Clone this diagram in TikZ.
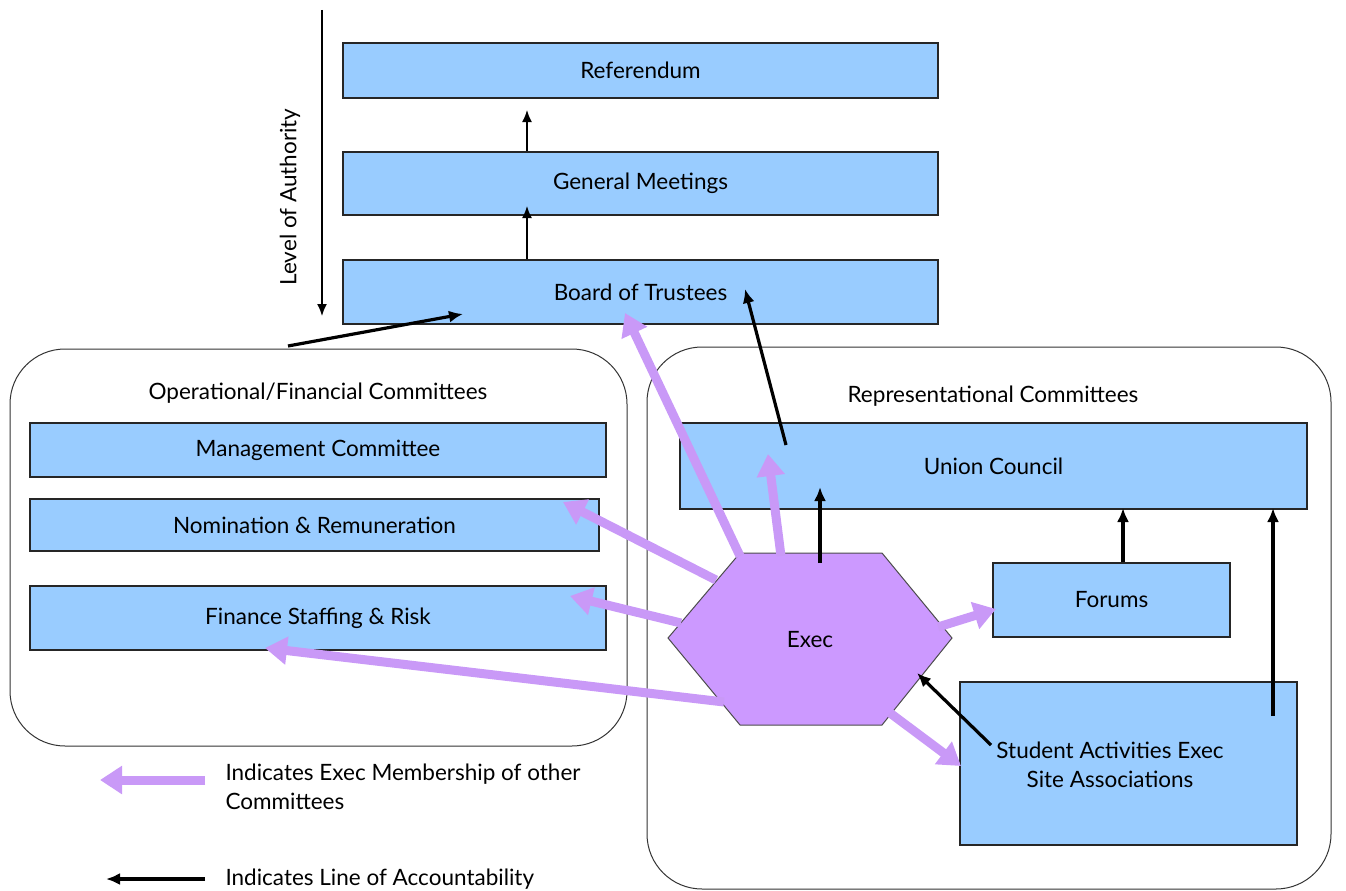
\documentclass[tikz,border=0pt]{standalone}
\usepackage{fontspec}
\setmainfont{Lato}
\usetikzlibrary{arrows.meta,calc}
\definecolor{boxblue}{HTML}{99CCFF}
\definecolor{execpurple}{HTML}{CC99FF}
\definecolor{arrowpurple}{HTML}{C999F7}
\begin{document}
\begin{tikzpicture}[x=1pt,y=-1pt,
  every node/.style={font=\fontsize{22.5}{29}\selectfont},
  bluebox/.style={draw=black!85,line width=1.4pt,fill=boxblue,inner sep=0pt},
  container/.style={draw=black!80,line width=1pt,rounded corners=55pt},
  blackarrow/.style={line width=3.2pt,-{Latex[length=14pt,width=12pt]}},
  thinarrow/.style={line width=1.6pt,-{Latex[length=12pt,width=10pt]}},
  purplearrow/.style={draw=arrowpurple,line width=9pt,-{Triangle[length=22pt,width=27pt]}}]
\useasboundingbox (0,0) rectangle (1346,891);
% containers
\draw[container] (10,349) rectangle (627,746);
\draw[container] (647,347) rectangle (1331,889);
\node (optitle) at (318,393) {Operational/Financial Committees};
\node (reptitle) at (993,396) {Representational Committees};
% top boxes
\node[bluebox,minimum width=595pt,minimum height=55pt] (ref) at (640.5,70.5) {Referendum};
\node[bluebox,minimum width=595pt,minimum height=63pt] (gm) at (640.5,183.5) {General Meetings};
\node[bluebox,minimum width=595pt,minimum height=64pt] (bot) at (640.5,292) {Board of Trustees};
% left committees
\node[bluebox,minimum width=576pt,minimum height=54pt] (mgmt) at (318,450) {Management Committee};
\node[bluebox,minimum width=569pt,minimum height=52pt] (nom) at (314.5,525) {Nomination \& Remuneration};
\node[bluebox,minimum width=576pt,minimum height=64pt] (fin) at (318,618) {Finance Staffing \& Risk};
% right committees
\node[bluebox,minimum width=627pt,minimum height=86pt] (uc) at (993.5,466) {Union Council};
\node[bluebox,minimum width=237pt,minimum height=74pt] (forums) at (1111.5,600) {Forums};
\node[bluebox,minimum width=337pt,minimum height=163pt] (sae) at (1128.5,763.5) {};
\node[align=center] (saetext) at (1110,765) {Student Activities Exec\\Site Associations};
% exec hexagon
\draw[fill=execpurple,draw=black!70,line width=1pt]
  (668,638) -- (740,553) -- (882,553) -- (952,638) -- (882,725) -- (740,725) -- cycle;
\node (exec) at (810,640) {Exec};
% level of authority
\coordinate (loatop) at (322,10);
\coordinate (loabot) at (322,316);
\draw[thinarrow] (loatop) -- (loabot);
\node[rotate=90] (loa) at (290,197) {Level of Authority};
% accountability arrows (top)
\draw[thinarrow] (gm.north -| 527,0) -- (527,110);
\draw[thinarrow] (bot.north -| 527,0) -- (527,206);
% purple membership arrows
\coordinate (e1) at (740,556);
\coordinate (e2) at (781,556);
\coordinate (e3) at (716,580);
\coordinate (e4) at (681,623);
\coordinate (e5) at (724,702);
\coordinate (e6) at (938,627);
\coordinate (e7) at (890,713);
\draw[purplearrow] (e1) -- (625,313);
\draw[purplearrow] (e2) -- (768,454);
\draw[purplearrow] (e3) -- (563,502);
\draw[purplearrow] (e4) -- (570,596);
\draw[purplearrow] (e5) -- (265,648);
\draw[purplearrow] (e6) -- (996,609);
\draw[purplearrow] (e7) -- (961,766);
% black accountability arrows
\coordinate (opstart) at (288,346);
\draw[blackarrow] (opstart) -- (463,314);
\draw[blackarrow] (786,445) -- (745,289);
\draw[blackarrow] (820,563) -- (820,487);
\draw[blackarrow] (forums.north -| 1123,0) -- (1123,508);
\draw[blackarrow] (1273,716) -- (1273,508);
\draw[blackarrow] (991,745) -- (917,673);
% legend
\coordinate (lp1) at (205,780);
\coordinate (lp2) at (100,780);
\draw[purplearrow] (lp1) -- (lp2);
\coordinate (lb1) at (205,879);
\coordinate (lb2) at (106,879);
\draw[blackarrow] (lb1) -- (lb2);
\node[anchor=west,align=left] (leg1) at (222,787) {Indicates Exec Membership of other\\Committees};
\node[anchor=west] (leg2) at (222,879) {Indicates Line of Accountability};
\end{tikzpicture}
\end{document}
